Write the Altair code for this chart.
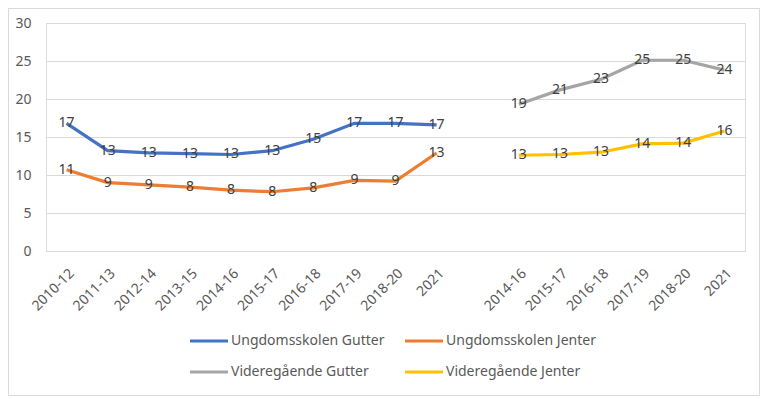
import altair as alt
import pandas as pd

# ---- data ----
periods_u = ["2010-12", "2011-13", "2012-14", "2013-15", "2014-16",
             "2015-17", "2016-18", "2017-19", "2018-20", "2021"]
periods_v = ["2014-16", "2015-17", "2016-18", "2017-19", "2018-20", "2021"]

u_gutter = [16.8, 13.2, 12.9, 12.8, 12.7, 13.2, 14.7, 16.8, 16.8, 16.6]
u_jenter = [10.7, 9.0, 8.7, 8.4, 8.0, 7.8, 8.3, 9.3, 9.2, 12.9]
v_gutter = [19.3, 21.2, 22.6, 25.1, 25.1, 23.8]
v_jenter = [12.6, 12.7, 13.0, 14.1, 14.2, 15.8]

u_labels_g = ["17", "13", "13", "13", "13", "13", "15", "17", "17", "17"]
u_labels_j = ["11", "9", "9", "8", "8", "8", "8", "9", "9", "13"]
v_labels_g = ["19", "21", "23", "25", "25", "24"]
v_labels_j = ["13", "13", "13", "14", "14", "16"]

# legend is filled column by column, so this order gives
# row 1: Ungdomsskolen Gutter | Ungdomsskolen Jenter
# row 2: Videregående Gutter  | Videregående Jenter
series_names = ["Ungdomsskolen Gutter", "Videregående Gutter",
                "Ungdomsskolen Jenter", "Videregående Jenter"]
series_colors = ["#4472C4", "#A5A5A5", "#ED7D31", "#FFC000"]

keys_u = ["U_" + p for p in periods_u]
keys_v = ["V_" + p for p in periods_v]
domain_keys = keys_u + ["gap"] + keys_v

rows = []
for name, keys, vals, labs in [
    ("Ungdomsskolen Gutter", keys_u, u_gutter, u_labels_g),
    ("Ungdomsskolen Jenter", keys_u, u_jenter, u_labels_j),
    ("Videregående Gutter", keys_v, v_gutter, v_labels_g),
    ("Videregående Jenter", keys_v, v_jenter, v_labels_j),
]:
    for k, v, l in zip(keys, vals, labs):
        rows.append({"key": k, "value": v, "label": l, "series": name})
df = pd.DataFrame(rows)

FONT = "Noto Sans"

x_enc = alt.X(
    "key:N",
    scale=alt.Scale(domain=domain_keys, type="point", padding=0.5),
    sort=domain_keys,
    axis=alt.Axis(
        title=None,
        labelAngle=-45,
        labelExpr="datum.value == 'gap' ? '' : slice(datum.value, 2)",
        labelFontSize=14,
        labelColor="#595959",
        labelFont=FONT,
        ticks=False,
        domain=False,
        grid=False,
        labelPadding=15,
        labelOverlap=False,
    ),
)
y_enc = alt.Y(
    "value:Q",
    scale=alt.Scale(domain=[0, 30]),
    axis=alt.Axis(
        title=None,
        values=[0, 5, 10, 15, 20, 25, 30],
        labelFontSize=14,
        labelColor="#595959",
        labelFont=FONT,
        ticks=False,
        domain=False,
        gridColor="#d9d9d9",
        gridWidth=1.2,
        labelPadding=15,
    ),
)

base = alt.Chart(df)

lines = base.mark_line(strokeWidth=3.2).encode(
    x=x_enc,
    y=y_enc,
    color=alt.Color(
        "series:N",
        scale=alt.Scale(domain=series_names, range=series_colors),
        legend=alt.Legend(
            title=None,
            orient="none",
            legendX=151,
            legendY=306,
            columns=2,
            padding=0,
            symbolType="M-1.9,0H1.9",
            symbolSize=400,
            symbolStrokeWidth=3.2,
            labelFontSize=14,
            labelFont=FONT,
            labelColor="#595959",
            labelOffset=10,
            columnPadding=13,
            rowPadding=12,
        ),
    ),
    detail="series:N",
)

texts = base.mark_text(fontSize=14, font=FONT, color="#404040").encode(
    x=x_enc,
    y=y_enc,
    text="label:N",
)

border = alt.Chart(pd.DataFrame({"a": [0]})).mark_rect(
    fill=None, stroke="#d9d9d9", strokeWidth=1
).encode(
    x=alt.value(-37.5), x2=alt.value(713.5),
    y=alt.value(-14.5), y2=alt.value(372.5),
)

chart = alt.layer(border, lines, texts).properties(
    width=699,
    height=228,
    autosize=alt.AutoSizeParams(type="none"),
    padding={"left": 38, "top": 15, "right": 15, "bottom": 145},
).configure_view(stroke=None).configure(background="white")

chart.save("out.html", embed_options={"renderer": "svg", "actions": False})
